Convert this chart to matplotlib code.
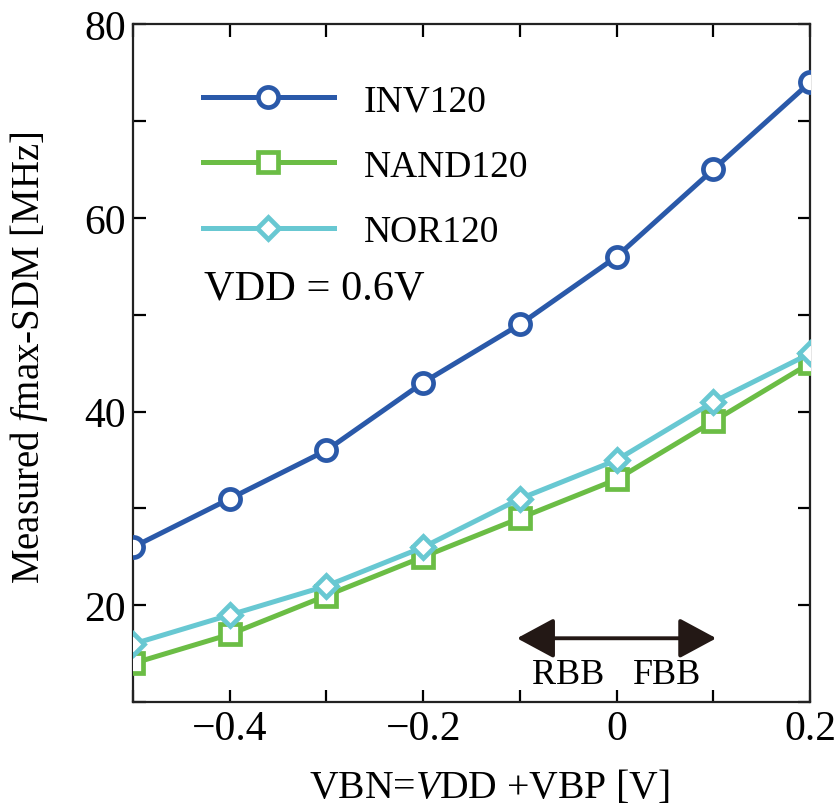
import matplotlib
matplotlib.use("Agg")
import matplotlib.pyplot as plt
from matplotlib.ticker import MultipleLocator

plt.rcParams['font.family'] = ['Liberation Serif', 'DejaVu Serif']
plt.rcParams['mathtext.fontset'] = 'custom'
plt.rcParams['mathtext.rm'] = 'Liberation Serif'
plt.rcParams['mathtext.it'] = 'Liberation Serif:italic'

# ---- data ----
vbn = [-0.5, -0.4, -0.3, -0.2, -0.1, 0.0, 0.1, 0.2]
inv120 = [26, 31, 36, 43, 49, 56, 65, 74]
nand120 = [14, 17, 21, 25, 29, 33, 39, 45]
nor120 = [16, 19, 22, 26, 31, 35, 41, 46]
series_labels = ['INV120', 'NAND120', 'NOR120']
xtick_vals = [-0.4, -0.2, 0.0, 0.2]
xtick_labels = ['\u22120.4', '\u22120.2', '0', '0.2']
ytick_vals = [20, 40, 60, 80]

c_inv = '#2a59a9'
c_nand = '#6bbd45'
c_nor = '#68c8d2'

fig = plt.figure(figsize=(8.36, 8.12), dpi=100)
ax = fig.add_axes([0.159, 0.134, 0.810, 0.835])

lw = 3.6
ms = 14.5
mew = 3.4
ax.plot(vbn, inv120, '-o', color=c_inv, lw=lw, ms=ms, mew=mew, mfc='white',
        mec=c_inv, label=series_labels[0], zorder=3)
ax.plot(vbn, nand120, '-s', color=c_nand, lw=lw, ms=ms, mew=mew, mfc='white',
        mec=c_nand, label=series_labels[1], zorder=3)
ax.plot(vbn, nor120, '-D', color=c_nor, lw=lw, ms=ms * 0.8, mew=mew, mfc='white',
        mec=c_nor, label=series_labels[2], zorder=4)

ax.set_xlim(-0.5, 0.2)
ax.set_ylim(10, 80)
ax.set_xticks(xtick_vals)
ax.set_xticklabels(xtick_labels)
ax.xaxis.set_minor_locator(MultipleLocator(0.1))
ax.set_yticks(ytick_vals)
ax.yaxis.set_minor_locator(MultipleLocator(10))

ax.tick_params(which='both', direction='in', top=True, right=True,
               labelsize=30, width=1.6)
ax.tick_params(which='major', length=9, pad=5)
ax.tick_params(which='minor', length=9)
for s in ax.spines.values():
    s.set_linewidth(1.6)
    s.set_color('#222222')

ax.set_ylabel(r'Measured $\mathit{f}$max-SDM [MHz]', fontsize=28)
ax.yaxis.set_label_coords(-0.123, 0.51)
ax.set_xlabel(r'VBN=$\mathit{V}$DD +VBP [V]', fontsize=28.5)
ax.xaxis.set_label_coords(0.526, -0.097)

leg = ax.legend(loc='upper left', bbox_to_anchor=(0.103, 0.912), frameon=False,
                fontsize=27, handlelength=3.5, handletextpad=0.8,
                labelspacing=0.82, borderpad=0, borderaxespad=0)

ax.text(-0.427, 52.7, 'VDD = 0.6V', fontsize=30.5, ha='left', va='center')

ax.annotate('', xy=(-0.103, 16.6), xytext=(0.103, 16.6),
            arrowprops=dict(arrowstyle='<|-|>,head_length=1.15,head_width=0.62',
                            color='#231815', lw=2.8, mutation_scale=20,
                            shrinkA=0, shrinkB=0))
ax.text(-0.05, 12.9, 'RBB', fontsize=26, ha='center', va='center')
ax.text(0.052, 12.9, 'FBB', fontsize=26, ha='center', va='center')

fig.savefig('out.png', dpi=100)
